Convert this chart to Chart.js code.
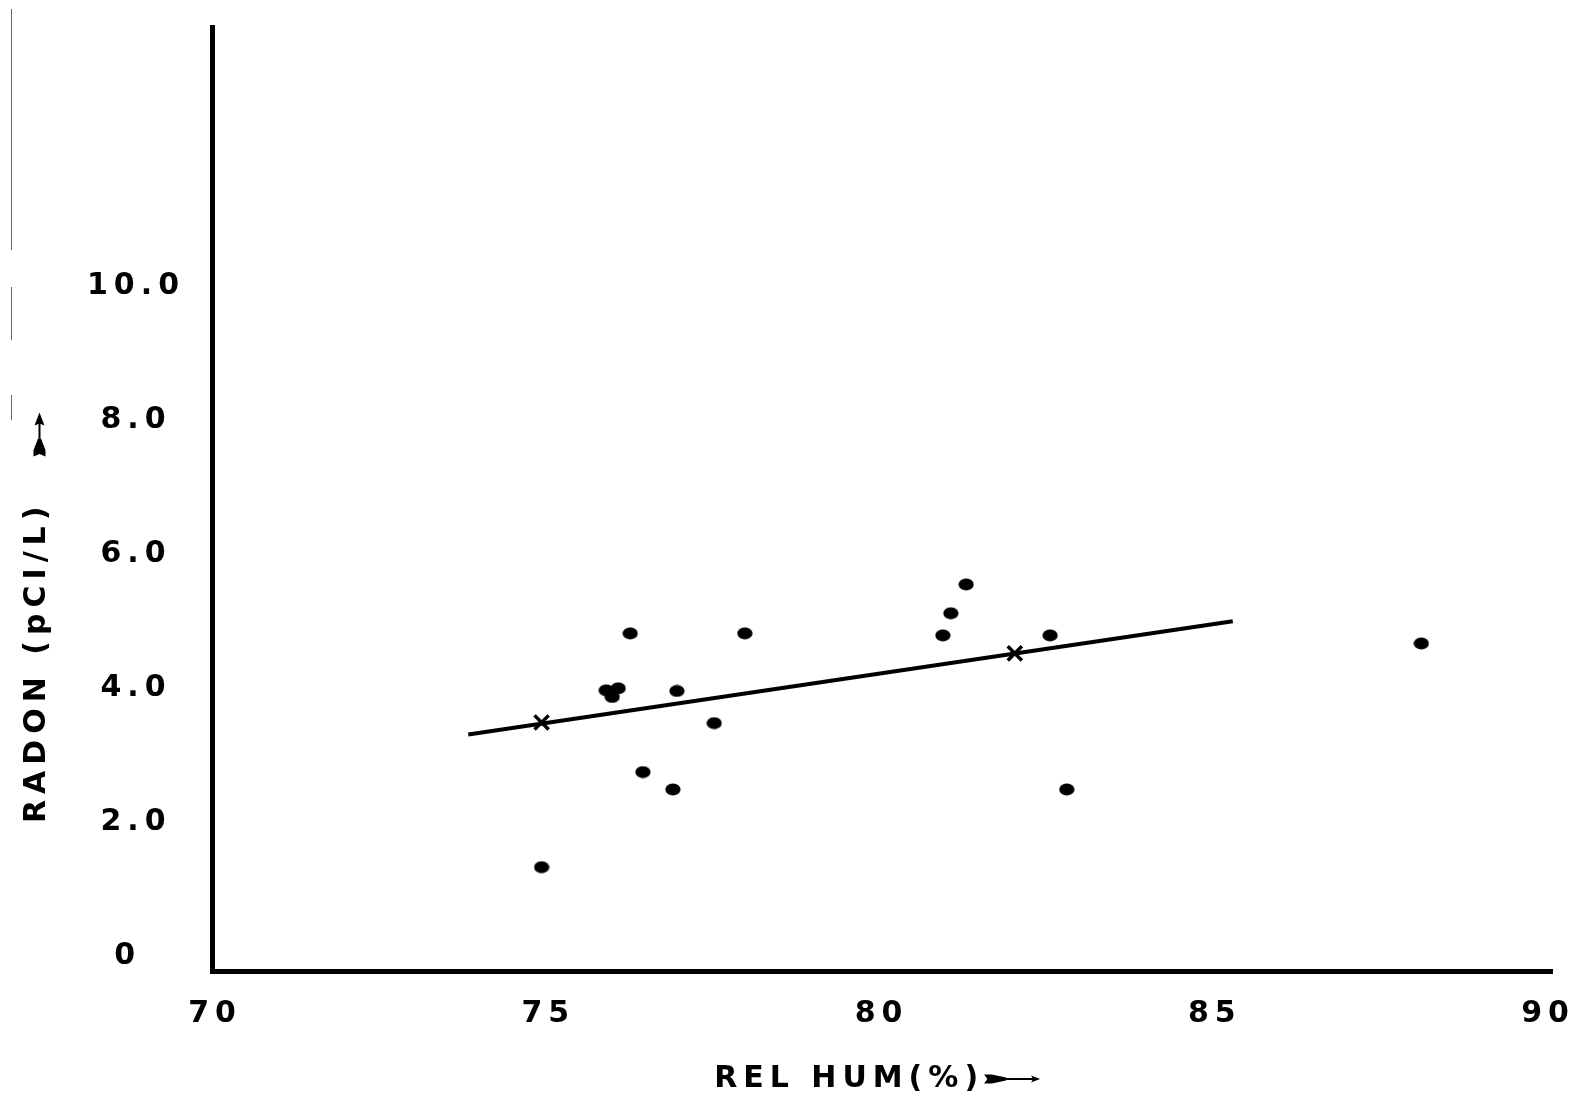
<!DOCTYPE html>
<html>
<head>
<meta charset="utf-8">
<title>Radon vs relative humidity</title>
<script src="https://cdn.jsdelivr.net/npm/chart.js@4.4.0/dist/chart.umd.min.js"></script>
<style>
  html, body { margin: 0; padding: 0; background: #fff; }
  #wrap { position: relative; width: 1586px; height: 1099px; }
  #radonChart { display: block; }
  .edge { position: absolute; left: 11px; width: 1px; background: #666; }
</style>
</head>
<body>
<div id="wrap">
  <canvas id="radonChart" width="1586" height="1099"></canvas>
  <div class="edge" style="top:9px;height:241px"></div>
  <div class="edge" style="top:287px;height:53px"></div>
  <div class="edge" style="top:395px;height:25px"></div>
</div>
<script>
// measured points
const humidity = [74.9, 75.87, 76.05, 75.96, 76.23, 77.95, 76.93, 77.49, 76.42, 76.87, 80.92, 81.04, 81.27, 82.53, 82.78, 88.1];
const radon    = [1.33, 3.97, 4.0, 3.87, 4.82, 4.82, 3.96, 3.48, 2.75, 2.49, 4.79, 5.12, 5.55, 4.79, 2.49, 4.67];

// group means (x markers)
const meanHum   = [74.9, 82.0];
const meanRadon = [3.49, 4.52];

// fitted line
const fitHum   = [73.8, 85.27];
const fitRadon = [3.31, 5.0];

const xTicks = [70, 75, 80, 85, 90];
const yTicks = [0, 2, 4, 6, 8, 10];

const xTitle = 'REL HUM(%)';
const yTitle = 'RADON (pCI/L)';

const SPACING = '6px';
const plotterFont = { family: 'DejaVu Sans', size: 30, weight: 'bold' };
const X_TITLE_PAD = 2;
const Y_TITLE_PAD = 19.5;
const Y_TITLE_LEAD = '         ';   // pushes the rotated title up from the corner
const X_ARROW_SLOT = '    ';        // room for the arrow after the x title

// slightly flattened dot, like a pen-plotter mark
function makeDot() {
    const c = document.createElement('canvas');
    c.width = 16;
    c.height = 13;
    const g = c.getContext('2d');
    g.fillStyle = '#000';
    g.beginPath();
    g.ellipse(8, 6.5, 7.6, 6, 0, 0, Math.PI * 2);
    g.fill();
    return c;
}

const toPoints = (xs, ys) => xs.map((x, i) => ({ x: x, y: ys[i] }));

// feathered arrow drawn along +x from (x, y), then rotated
function drawArrow(ctx, x, y, angle, tail, tailW, shaft, head, headW) {
    ctx.save();
    ctx.translate(x, y);
    ctx.rotate(angle);
    ctx.fillStyle = '#000';
    ctx.strokeStyle = '#000';
    ctx.beginPath();
    ctx.moveTo(0, -tailW / 2);
    ctx.lineTo(tail * 0.35, -tailW / 2);
    ctx.lineTo(tail, -1.5);
    ctx.lineTo(tail, 1.5);
    ctx.lineTo(tail * 0.35, tailW / 2);
    ctx.lineTo(0, tailW / 2);
    ctx.lineTo(tail * 0.15, 0);
    ctx.closePath();
    ctx.fill();
    ctx.lineWidth = 2;
    ctx.beginPath();
    ctx.moveTo(tail, 0);
    ctx.lineTo(tail + shaft + 2, 0);
    ctx.stroke();
    const hx = tail + shaft;
    ctx.beginPath();
    ctx.moveTo(hx + head, 0);
    ctx.lineTo(hx - 1, -headW / 2);
    ctx.lineTo(hx + 1, 0);
    ctx.lineTo(hx - 1, headW / 2);
    ctx.closePath();
    ctx.fill();
    ctx.restore();
}

// wide plotter lettering and the arrows after the axis titles
const plotterText = {
    id: 'plotterText',
    beforeUpdate(chart) { chart.ctx.letterSpacing = SPACING; },
    beforeDraw(chart) { chart.ctx.letterSpacing = SPACING; },
    afterDraw(chart) {
        const ctx = chart.ctx;
        const xs = chart.scales.x;
        const ys = chart.scales.y;
        const lh = plotterFont.size * 1.2;
        ctx.save();
        ctx.font = `${plotterFont.weight} ${plotterFont.size}px "${plotterFont.family}"`;
        ctx.letterSpacing = SPACING;

        // x title: centred string = text + arrow slot
        const full = ctx.measureText(xTitle + X_ARROW_SLOT).width;
        const textW = ctx.measureText(xTitle).width;
        const xStart = (xs.left + xs.right) / 2 - full / 2;
        const xMid = xs.bottom - lh / 2 - X_TITLE_PAD;
        drawArrow(ctx, xStart + textW, xMid, 0, 22, 9, 26, 8, 7);

        // y title: reads upward from the bottom of the axis
        const yLen = ctx.measureText(Y_TITLE_LEAD + yTitle).width;
        const yMid = ys.left + lh / 2 + Y_TITLE_PAD;
        drawArrow(ctx, yMid + 2, ys.bottom - yLen - 44, -Math.PI / 2, 18, 12, 14, 12, 10);
        ctx.restore();
    }
};

// keep the plot box where it is, labels may hang outside it
function noEdgePadding(s) {
    s.paddingTop = 0;
    s.paddingBottom = 0;
    s.paddingLeft = 0;
    s.paddingRight = 0;
}

new Chart(document.getElementById('radonChart'), {
    type: 'scatter',
    data: {
        datasets: [
            {
                label: 'fit',
                data: toPoints(fitHum, fitRadon),
                showLine: true,
                borderColor: '#000',
                borderWidth: 4,
                pointRadius: 0
            },
            {
                label: 'samples',
                data: toPoints(humidity, radon),
                pointStyle: makeDot(),
                pointRadius: 7
            },
            {
                label: 'means',
                data: toPoints(meanHum, meanRadon),
                pointStyle: 'crossRot',
                pointRadius: 10,
                borderColor: '#000',
                borderWidth: 3.5
            }
        ]
    },
    options: {
        responsive: false,
        animation: false,
        layout: { padding: { top: 27, right: 34, left: 0, bottom: 0 } },
        plugins: {
            legend: { display: false },
            tooltip: { enabled: false }
        },
        scales: {
            x: {
                type: 'linear',
                min: 69.955,
                max: 90.06,
                afterBuildTicks: s => { s.ticks = xTicks.map(v => ({ value: v })); },
                afterFit: s => { s.height = 128; noEdgePadding(s); },
                grid: { display: false, drawTicks: false },
                border: { display: true, color: '#000', width: 5 },
                ticks: { color: '#000', font: plotterFont, padding: 25, maxRotation: 0, autoSkip: false },
                title: {
                    display: true,
                    text: xTitle + X_ARROW_SLOT,
                    color: '#000',
                    font: plotterFont,
                    padding: { top: 0, bottom: X_TITLE_PAD }
                }
            },
            y: {
                type: 'linear',
                min: -0.22,
                max: 13.87,
                afterBuildTicks: s => { s.ticks = yTicks.map(v => ({ value: v })); },
                afterFit: s => { s.width = 212; noEdgePadding(s); },
                grid: { display: false, drawTicks: false },
                border: { display: true, color: '#000', width: 5 },
                ticks: {
                    color: '#000',
                    font: plotterFont,
                    padding: 27,
                    crossAlign: 'center',
                    callback: v => v === 0 ? '0 ' : v.toFixed(1)
                },
                title: {
                    display: true,
                    align: 'start',
                    text: Y_TITLE_LEAD + yTitle,
                    color: '#000',
                    font: plotterFont,
                    padding: { top: Y_TITLE_PAD, bottom: 0 }
                }
            }
        }
    },
    plugins: [plotterText]
});
</script>
</body>
</html>
